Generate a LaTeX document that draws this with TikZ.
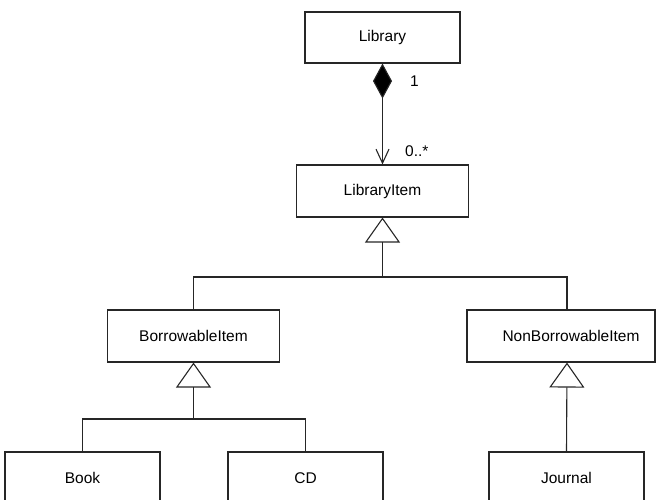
\documentclass[tikz,border=0pt]{standalone}
\usepackage{fontspec}
\setmainfont{Liberation Sans}
\usetikzlibrary{arrows.meta}
\begin{document}
\begin{tikzpicture}[x=1pt,y=-1pt,
  every node/.style={font=\fontsize{15.5}{18}\selectfont},
  cls/.style={draw=black!85, line width=1.1pt, fill=white, rectangle, inner sep=0pt, minimum height=52pt},
  conn/.style={draw=black!85, line width=1.1pt},
  inh/.style={conn, -{Triangle[open, length=25pt, width=35pt, line width=1.1pt]}},
  comp/.style={conn, {Diamond[length=35pt, width=19pt, fill=black]}-{Straight Barb[length=14pt, width=13pt, line width=1.1pt]}},
  mult/.style={anchor=base west, inner sep=0pt}
]
\useasboundingbox (0,0) rectangle (656,500);
\clip (0,0) rectangle (656,500);

\node[cls, minimum width=155pt, minimum height=51pt] (lib) at (382.5,37.5) {Library};
\node[cls, minimum width=172pt] (item) at (382.5,191) {LibraryItem};
\node[cls, minimum width=172pt] (borrow) at (193.5,336) {BorrowableItem};
\node[cls, minimum width=188pt] (nonb) at (561,336) {\hspace*{20pt}NonBorrowableItem};
\node[cls, minimum width=155pt] (book) at (82.5,478) {Book};
\node[cls, minimum width=155pt] (cd) at (305.5,478) {CD};
\node[cls, minimum width=155pt] (journal) at (566.5,478) {Journal};

% composition
\draw[comp] (lib.south) -- (item.north);
\node[mult] (m1) at (410,87) {1};
\node[mult] (m2) at (405,157) {0..*};

% generalization LibraryItem
\coordinate (jT) at (382.5,277);
\coordinate (nT) at ([xshift=6pt]nonb.north);
\coordinate (nB) at ([xshift=6pt]nonb.south);
\draw[inh] (jT) -- (item.south);
\draw[conn] (borrow.north) |- (jT) -| (nT);

% generalization BorrowableItem
\coordinate (jB) at (193.5,419);
\draw[inh] (jB) -- (borrow.south);
\draw[conn] (book.north) |- (jB) -| (cd.north);

% generalization NonBorrowableItem
\draw[inh] (journal.north) -- (nB);
\end{tikzpicture}
\end{document}
